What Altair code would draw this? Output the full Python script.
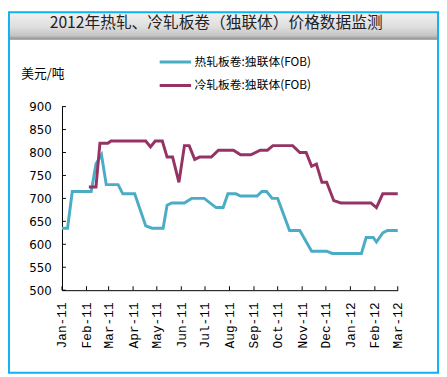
import altair as alt
import pandas as pd

TITLE = "2012年热轧、冷轧板卷（独联体）价格数据监测"
UNIT = "美元/吨"
SERIES = ["热轧板卷:独联体(FOB)", "冷轧板卷:独联体(FOB)"]
COLORS = ["#4BACC6", "#953464"]

hot_dates = ["2011-01-01", "2011-01-08", "2011-01-14", "2011-02-07", "2011-02-13", "2011-02-20",
             "2011-02-26", "2011-03-13", "2011-03-19", "2011-04-03", "2011-04-17", "2011-04-25",
             "2011-05-09", "2011-05-14", "2011-05-20", "2011-06-05", "2011-06-14", "2011-06-30",
             "2011-07-15", "2011-07-24", "2011-07-30", "2011-08-09", "2011-08-15", "2011-09-05",
             "2011-09-11", "2011-09-17", "2011-09-24", "2011-10-01", "2011-10-16", "2011-10-29",
             "2011-11-13", "2011-12-02", "2011-12-09", "2012-01-15", "2012-01-21", "2012-01-30",
             "2012-02-03", "2012-02-11", "2012-02-17", "2012-03-01"]
hot_vals = [635, 635, 715, 715, 775, 795, 730, 730, 710, 710,
            640, 635, 635, 685, 690, 690, 700, 700, 680, 680,
            710, 710, 705, 705, 715, 715, 700, 700, 630, 630,
            585, 585, 580, 580, 615, 615, 605, 625, 630, 630]

cold_dates = ["2011-02-04", "2011-02-13", "2011-02-18", "2011-02-28", "2011-03-04", "2011-04-17",
              "2011-04-23", "2011-04-29", "2011-05-08", "2011-05-14", "2011-05-21", "2011-05-29",
              "2011-06-05", "2011-06-11", "2011-06-18", "2011-06-24", "2011-07-09", "2011-07-18",
              "2011-08-06", "2011-08-15", "2011-08-28", "2011-09-09", "2011-09-18", "2011-09-25",
              "2011-10-20", "2011-10-29", "2011-11-06", "2011-11-13", "2011-11-19", "2011-11-26",
              "2011-12-02", "2011-12-11", "2011-12-20", "2012-01-27", "2012-02-03", "2012-02-11",
              "2012-03-01"]
cold_vals = [725, 725, 820, 820, 825, 825, 812, 825, 825, 790,
             790, 735, 815, 815, 785, 790, 790, 805, 805, 795,
             795, 805, 805, 815, 815, 800, 800, 770, 775, 735,
             735, 695, 690, 690, 680, 710, 710]

month_ticks = ["2011-01-01", "2011-02-01", "2011-03-01", "2011-04-01", "2011-05-01", "2011-06-01",
               "2011-07-01", "2011-08-01", "2011-09-01", "2011-10-01", "2011-11-01", "2011-12-01",
               "2012-01-01", "2012-02-01", "2012-03-01"]
y_ticks = [500, 550, 600, 650, 700, 750, 800, 850, 900]

df = pd.concat([
    pd.DataFrame({"date": pd.to_datetime(hot_dates), "price": hot_vals, "series": SERIES[0]}),
    pd.DataFrame({"date": pd.to_datetime(cold_dates), "price": cold_vals, "series": SERIES[1]}),
])
mt = pd.DataFrame({"date": pd.to_datetime(month_ticks)})
yt = pd.DataFrame({"v": y_ticks})

x_scale = alt.Scale(domain=[alt.DateTime(year=2011, month=1, date=1),
                            alt.DateTime(year=2012, month=3, date=1)])
y_scale = alt.Scale(domain=[500, 900], nice=False, zero=False)

x_axis = alt.Axis(
    values=[alt.DateTime(year=int(d[:4]), month=int(d[5:7]), date=1) for d in month_ticks],
    format="%b-%y", labelAngle=270, labelAlign="right", labelBaseline="middle",
    labelFont="Liberation Mono", labelFontSize=13, labelColor="#000", labelPadding=12,
    tickSize=0, domainColor="#000", grid=False, title=None, labelOverlap=False,
    labelFlush=False,
)
y_axis = alt.Axis(
    values=y_ticks, labelFont="DejaVu Sans", labelFontSize=12, labelColor="#000",
    labelPadding=11, tickSize=0, domainColor="#000", grid=False,
    title=UNIT, titleAngle=0, titleX=-20, titleY=-34, titleAlign="center",
    titleBaseline="middle", titleFont="Noto Sans CJK SC", titleFontSize=13,
    titleFontWeight="normal", titleColor="#000",
)

one = pd.DataFrame({"a": [0]})
grad = {"gradient": "linear", "x1": 0, "y1": 0, "x2": 0, "y2": 1,
        "stops": [{"offset": 0, "color": "#f2f2f2"}, {"offset": 0.55, "color": "#dedede"},
                  {"offset": 0.85, "color": "#c4c4c4"}, {"offset": 1, "color": "#8a8a8a"}]}
title_bar = alt.Chart(one).mark_rect(fill=grad).encode(
    x=alt.value(-55), x2=alt.value(384), y=alt.value(-97), y2=alt.value(-68))
border = alt.Chart(one).mark_rect(fill=None, stroke="#12B2EE", strokeWidth=2).encode(
    x=alt.value(-54), x2=alt.value(383), y=alt.value(-96), y2=alt.value(271))
title_text = alt.Chart(pd.DataFrame({"t": [TITLE]})).mark_text(
    font="Noto Sans CJK SC", fontSize=16, color="#222", align="center", baseline="middle"
).encode(text="t:N", x=alt.value(157), y=alt.value(-85))

lines = alt.Chart(df).mark_line(strokeWidth=3).encode(
    x=alt.X("date:T", scale=x_scale, axis=x_axis),
    y=alt.Y("price:Q", scale=y_scale, axis=y_axis),
    color=alt.Color("series:N", scale=alt.Scale(domain=SERIES, range=COLORS),
                    legend=alt.Legend(orient="none", legendX=98, legendY=-63, title=None,
                                      symbolType="stroke", symbolSize=1024, symbolStrokeWidth=3,
                                      labelFont="Noto Sans CJK SC", labelFontSize=12,
                                      labelColor="#000", labelOffset=2, rowPadding=-1)),
    detail="series:N",
)
yticks = alt.Chart(yt).mark_rule(color="#000").encode(
    y=alt.Y("v:Q", scale=y_scale, axis=y_axis), x=alt.value(0), x2=alt.value(4))
xticks = alt.Chart(mt).mark_rule(color="#000").encode(
    x=alt.X("date:T", scale=x_scale, axis=x_axis), y=alt.value(183), y2=alt.value(187))

chart = alt.layer(title_bar, border, title_text, lines, yticks, xticks).properties(
    width=342, height=187,
    autosize=alt.AutoSizeParams(type="none"),
    padding={"left": 55, "top": 97, "right": 42, "bottom": 85},
    background="white",
).configure_view(stroke=None)

chart.save("out.html", embed_options={"renderer": "svg", "actions": False})
